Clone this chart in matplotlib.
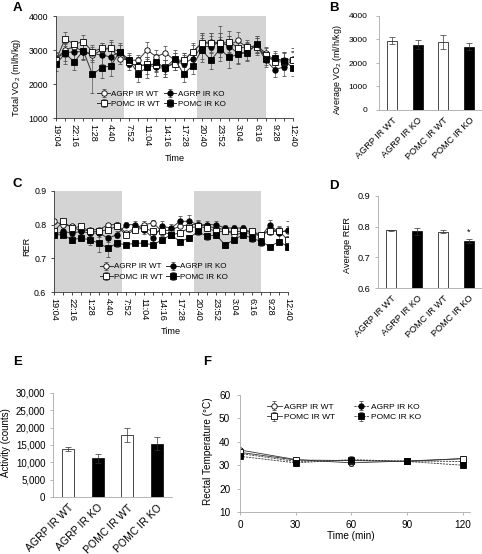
import numpy as np
import matplotlib
matplotlib.use('Agg')
import matplotlib.pyplot as plt
from matplotlib.ticker import FuncFormatter

plt.rcParams['font.family'] = ['Liberation Sans', 'DejaVu Sans']
plt.rcParams['mathtext.fontset'] = 'custom'
plt.rcParams['mathtext.rm'] = 'Liberation Sans'
plt.rcParams['mathtext.it'] = 'Liberation Sans:italic'
plt.rcParams['font.size'] = 6.5

W, H = 482, 554

groups = ['AGRP IR WT', 'AGRP IR KO', 'POMC IR WT', 'POMC IR KO']
time_labels = ['19:04', '22:16', '1:28', '4:40', '7:52', '11:04', '14:16',
               '17:28', '20:40', '23:52', '3:04', '6:16', '9:28', '12:40']
# dark phases, in sample index (one sample every 96 min)
dark_periods = [(0, 7.5), (15.5, 23)]

# --- A: total VO2 over time
vo2_agrp_wt = [2750, 3000, 3100, 2950, 2850, 3000, 3050, 2750, 2700, 2700, 3000, 2800, 2920, 2700,
               2700, 2950, 3200, 3250, 3200, 3150, 3280, 3050, 3150, 2900, 2700, 2700, 2750]
vo2_agrp_ko = [2750, 2920, 2950, 2950, 2900, 2850, 2800, 2950, 2600, 2550, 2550, 2500, 2450, 2650,
               2600, 2750, 3100, 3100, 3250, 3100, 2900, 2950, 3150, 2700, 2420, 2500, 2720]
vo2_pomc_wt = [2700, 3330, 3170, 3250, 2950, 3050, 3050, 2950, 2650, 2500, 2600, 2550, 2500, 2600,
               2700, 2950, 3200, 3200, 3200, 3250, 3050, 3100, 3100, 2850, 2650, 2650, 2700]
vo2_pomc_ko = [2580, 2900, 2650, 2980, 2280, 2480, 2530, 2950, 2720, 2300, 2490, 2640, 2470, 2740,
               2300, 2540, 3000, 2700, 3030, 2780, 2880, 2920, 3170, 2750, 2760, 2680, 2480]
vo2_agrp_wt_err = [150, 200, 150, 200, 150, 200, 250, 150, 150, 150, 250, 200, 200, 200,
                   200, 250, 300, 250, 300, 250, 250, 200, 200, 200, 200, 250, 300]
vo2_agrp_ko_err = [200, 250, 200, 250, 250, 250, 250, 250, 200, 250, 250, 250, 250, 250,
                   250, 250, 350, 300, 450, 300, 300, 250, 250, 200, 200, 250, 250]
vo2_pomc_wt_err = [150, 200, 100, 200, 150, 150, 200, 200, 150, 200, 200, 200, 200, 200,
                   200, 200, 300, 300, 300, 300, 200, 200, 250, 200, 200, 250, 250]
vo2_pomc_ko_err = [200, 300, 250, 250, 550, 300, 300, 200, 200, 250, 300, 250, 250, 250,
                   250, 250, 350, 250, 350, 300, 250, 250, 250, 200, 200, 250, 250]

# --- C: RER over time
rer_agrp_wt = [0.810, 0.800, 0.795, 0.780, 0.785, 0.785, 0.800, 0.800, 0.775, 0.790, 0.800, 0.805, 0.780, 0.785,
               0.795, 0.800, 0.800, 0.795, 0.790, 0.785, 0.770, 0.775, 0.775, 0.770, 0.785, 0.780, 0.780]
rer_agrp_ko = [0.770, 0.780, 0.775, 0.780, 0.775, 0.775, 0.760, 0.770, 0.800, 0.800, 0.785, 0.760, 0.795, 0.790,
               0.810, 0.810, 0.800, 0.800, 0.800, 0.790, 0.790, 0.790, 0.775, 0.765, 0.800, 0.775, 0.785]
rer_pomc_wt = [0.780, 0.810, 0.790, 0.795, 0.780, 0.780, 0.785, 0.795, 0.770, 0.785, 0.790, 0.780, 0.780, 0.770,
               0.775, 0.790, 0.795, 0.790, 0.780, 0.780, 0.780, 0.780, 0.780, 0.770, 0.780, 0.780, 0.755]
rer_pomc_ko = [0.770, 0.770, 0.755, 0.760, 0.755, 0.745, 0.730, 0.745, 0.740, 0.745, 0.745, 0.740, 0.755, 0.770,
               0.750, 0.760, 0.780, 0.765, 0.770, 0.740, 0.755, 0.770, 0.760, 0.750, 0.735, 0.750, 0.735]
rer_agrp_wt_err = [0.008, 0.006, 0.006, 0.005, 0.005, 0.006, 0.006, 0.008, 0.006, 0.008, 0.010, 0.008, 0.010, 0.010,
                   0.012, 0.015, 0.012, 0.010, 0.010, 0.008, 0.008, 0.008, 0.008, 0.008, 0.010, 0.012, 0.015]
rer_agrp_ko_err = [0.008, 0.008, 0.010, 0.008, 0.010, 0.012, 0.010, 0.010, 0.008, 0.010, 0.012, 0.012, 0.015, 0.012,
                   0.015, 0.020, 0.015, 0.012, 0.012, 0.010, 0.010, 0.010, 0.010, 0.010, 0.015, 0.020, 0.025]
rer_pomc_wt_err = [0.008, 0.006, 0.006, 0.005, 0.006, 0.006, 0.008, 0.008, 0.006, 0.008, 0.010, 0.008, 0.010, 0.010,
                   0.010, 0.012, 0.012, 0.010, 0.010, 0.008, 0.008, 0.008, 0.008, 0.008, 0.010, 0.010, 0.012]
rer_pomc_ko_err = [0.008, 0.008, 0.010, 0.008, 0.015, 0.025, 0.025, 0.010, 0.005, 0.005, 0.005, 0.008, 0.010, 0.008,
                   0.008, 0.008, 0.010, 0.010, 0.010, 0.008, 0.010, 0.010, 0.010, 0.012, 0.005, 0.008, 0.008]

# --- B, D, E: group averages
avg_vo2 = [2950, 2780, 2900, 2700]
avg_vo2_err = [150, 180, 300, 150]
avg_rer = [0.788, 0.785, 0.784, 0.753]
avg_rer_err = [0.002, 0.012, 0.006, 0.007]
activity = [13800, 11200, 18000, 15400]
activity_err = [600, 1300, 2000, 1800]

# --- F: rectal temperature
temp_time = [0, 30, 60, 90, 120]
temp_agrp_wt = [36.5, 32.4, 31.0, 31.8, 32.8]
temp_agrp_ko = [35.0, 31.6, 32.0, 31.8, 31.6]
temp_pomc_wt = [35.5, 32.2, 32.0, 31.6, 32.8]
temp_pomc_ko = [33.8, 31.0, 32.4, 31.6, 30.0]
temp_agrp_wt_err = [1.0, 1.0, 1.2, 0.8, 1.0]
temp_agrp_ko_err = [1.0, 1.0, 1.2, 1.0, 1.0]
temp_pomc_wt_err = [1.0, 0.8, 1.0, 0.8, 1.2]
temp_pomc_ko_err = [1.0, 1.2, 1.5, 1.2, 1.0]

styles = {
    'AGRP IR WT': dict(marker='o', mfc='white'),
    'AGRP IR KO': dict(marker='o', mfc='black'),
    'POMC IR WT': dict(marker='s', mfc='white'),
    'POMC IR KO': dict(marker='s', mfc='black'),
}

fig = plt.figure(figsize=(W / 100, H / 100), dpi=100)


def px_axes(l, t, r, b):
    return fig.add_axes([l / W, 1 - b / H, (r - l) / W, (b - t) / H])


def px_text(x, y, s, **kw):
    fig.text(x / W, 1 - y / H, s, **kw)


def time_panel(ax, series, errs, ylim, yticks, legend_pos):
    n = len(series[0])
    x = np.arange(n)
    for start, end in dark_periods:
        ax.axvspan(start, end, color='#d4d4d4', lw=0, zorder=0)
    for name, y, e in zip(groups, series, errs):
        ax.errorbar(x, y, yerr=e, color='#333333', lw=0.7, ms=3.9, mec='black', mew=0.6,
                    elinewidth=0.5, ecolor='#555555', capsize=1.3, capthick=0.5,
                    label=name, **styles[name])
    ax.set_xlim(0, n - 1)
    ax.set_ylim(*ylim)
    ax.set_yticks(yticks)
    ax.set_xticks(x)
    ax.set_xticklabels([time_labels[i // 2] if i % 2 == 0 else '' for i in x], rotation=270)
    ax.tick_params(axis='x', length=2.5, width=0.5, pad=1.5, labelsize=6.6)
    ax.tick_params(axis='y', length=2.5, width=0.5, pad=3, labelsize=6.3)
    for s in ['top', 'right']:
        ax.spines[s].set_visible(False)
    for s in ['left', 'bottom']:
        ax.spines[s].set_linewidth(0.6)
        ax.spines[s].set_color('#333333')
    h, l = ax.get_legend_handles_labels()
    order = [0, 2, 1, 3]
    ax.legend([h[i] for i in order], [l[i] for i in order], ncol=2, frameon=False,
              loc='center', bbox_to_anchor=legend_pos, fontsize=5.8, handlelength=1.6,
              handletextpad=0.15, columnspacing=0.4, labelspacing=0.35, borderpad=0)


def bar_panel(ax, vals, errs, ylim, yticks, tick_size, label_size, width, pad):
    x = np.arange(len(vals))
    colors = ['white', 'black', 'white', 'black']
    ax.bar(x, vals, width=width, color=colors, edgecolor='black', lw=0.5, yerr=errs,
           capsize=2, error_kw=dict(elinewidth=0.5, capthick=0.5, ecolor='#333333'))
    ax.set_xlim(-0.5, len(vals) - 0.5)
    ax.set_ylim(*ylim)
    ax.set_yticks(yticks)
    ax.set_xticks(x)
    ax.set_xticklabels(groups, rotation=45, ha='right', rotation_mode='anchor')
    ax.tick_params(axis='x', length=0, pad=4, labelsize=label_size)
    ax.tick_params(axis='y', length=2.5, width=0.5, color='#999999', pad=pad, labelsize=tick_size)
    for s in ['top', 'right']:
        ax.spines[s].set_visible(False)
    for s in ['left', 'bottom']:
        ax.spines[s].set_linewidth(0.6)
        ax.spines[s].set_color('#aaaaaa')


# A
axA = px_axes(56, 16, 293, 118)
time_panel(axA, [vo2_agrp_wt, vo2_agrp_ko, vo2_pomc_wt, vo2_pomc_ko],
           [vo2_agrp_wt_err, vo2_agrp_ko_err, vo2_pomc_wt_err, vo2_pomc_ko_err],
           (1000, 4000), [1000, 2000, 3000, 4000], (0.445, 0.185))
px_text(17, 77, 'Total VO$_2$ (ml/h/kg)', rotation=90, ha='center', va='center', fontsize=6.6)
px_text(175, 158, 'Time', ha='center', va='center', fontsize=6.6)

# B
axB = px_axes(379, 16, 482, 110)
bar_panel(axB, avg_vo2, avg_vo2_err, (0, 4000), [0, 1000, 2000, 3000, 4000], 6.0, 6.6, 0.39, 6)
px_text(338, 70, 'Average VO$_2$ (ml/h/kg)', rotation=90, ha='center', va='center', fontsize=6.4)

# C
axC = px_axes(54, 191, 288, 292)
time_panel(axC, [rer_agrp_wt, rer_agrp_ko, rer_pomc_wt, rer_pomc_ko],
           [rer_agrp_wt_err, rer_agrp_ko_err, rer_pomc_wt_err, rer_pomc_ko_err],
           (0.6, 0.9), [0.6, 0.7, 0.8, 0.9], (0.47, 0.2))
px_text(27, 246, 'RER', rotation=90, ha='center', va='center', fontsize=6.6)
px_text(171, 331, 'Time', ha='center', va='center', fontsize=6.6)

# D
axD = px_axes(378, 196, 482, 288)
bar_panel(axD, avg_rer, avg_rer_err, (0.6, 0.9), [0.6, 0.7, 0.8, 0.9], 6.6, 6.6, 0.39, 3)
axD.text(3, avg_rer[3] + avg_rer_err[3] + 0.006, '*', ha='center', va='bottom', fontsize=6.5)
px_text(348, 245, 'Average RER', rotation=90, ha='center', va='center', fontsize=6.6)

# E
axE = px_axes(53, 393, 172, 497)
bar_panel(axE, activity, activity_err, (0, 30000), range(0, 30001, 5000), 7, 7.6, 0.4, 3)
axE.yaxis.set_major_formatter(FuncFormatter(lambda v, p: f'{int(v):,}'))
px_text(6, 443, 'Activity (counts)', rotation=90, ha='center', va='center', fontsize=7)

# F
axF = px_axes(240, 395, 470, 512)
for name, y, e, ls in zip(groups,
                          [temp_agrp_wt, temp_agrp_ko, temp_pomc_wt, temp_pomc_ko],
                          [temp_agrp_wt_err, temp_agrp_ko_err, temp_pomc_wt_err, temp_pomc_ko_err],
                          ['-', (0, (2.5, 1.2)), '-', (0, (2.5, 1.2))]):
    axF.errorbar(temp_time, y, yerr=e, color='#333333', lw=0.6, ls=ls, ms=3.9, mec='black',
                 mew=0.6, elinewidth=0.5, ecolor='#555555', capsize=1.3, capthick=0.5,
                 label=name, **styles[name])
axF.set_xlim(0, 124)
axF.set_ylim(10, 60)
axF.set_xticks(temp_time)
axF.set_yticks(range(10, 61, 10))
axF.tick_params(axis='x', length=2.5, width=0.5, color='#999999', pad=3, labelsize=7.2)
axF.tick_params(axis='y', length=2.5, width=0.5, color='#999999', pad=4.5, labelsize=7.2)
for s in ['top', 'right']:
    axF.spines[s].set_visible(False)
for s in ['left', 'bottom']:
    axF.spines[s].set_linewidth(0.6)
    axF.spines[s].set_color('#aaaaaa')
h, l = axF.get_legend_handles_labels()
order = [0, 2, 1, 3]
axF.legend([h[i] for i in order], [l[i] for i in order], ncol=2, frameon=False,
           loc='center', bbox_to_anchor=(0.452, 0.855), fontsize=6, handlelength=1.8,
           handletextpad=0.3, columnspacing=2.2, labelspacing=0.35, borderpad=0)
px_text(208, 451, 'Rectal Temperature (\u00b0C)', rotation=90, ha='center', va='center', fontsize=7.2)
px_text(351, 536, 'Time (min)', ha='center', va='center', fontsize=7.2)

# panel letters
for letter, x, y in [('A', 17, 8), ('B', 334, 8), ('C', 17, 184), ('D', 334, 186),
                     ('E', 17.5, 362), ('F', 207, 362)]:
    px_text(x, y, letter, ha='center', va='center', fontsize=9.5, fontweight='bold')

fig.savefig('out.png', dpi=100)
